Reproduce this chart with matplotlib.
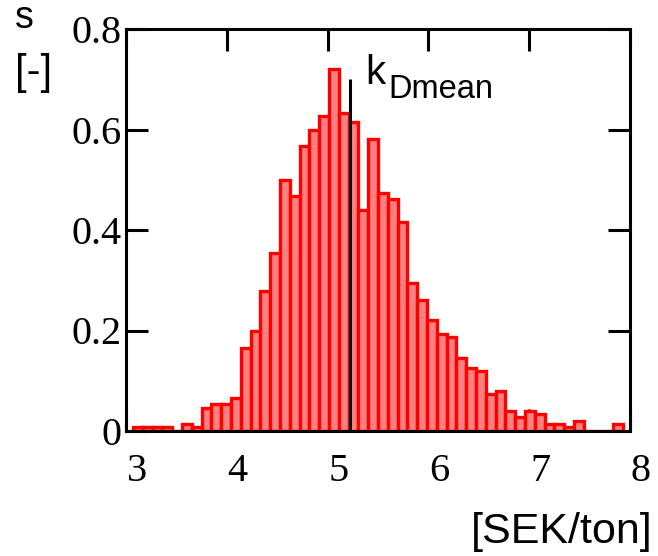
import matplotlib
matplotlib.use("Agg")
import numpy as np
import matplotlib.pyplot as plt
import matplotlib.transforms as mtransforms

# histogram of k_D, 50 bins between data min and max
bin_start = 3.07
bin_width = 0.0972
s_values = [0.008, 0.008, 0.008, 0.008, 0.0, 0.014, 0.008, 0.046, 0.053, 0.053,
            0.066, 0.166, 0.200, 0.279, 0.354, 0.500, 0.468, 0.567, 0.600, 0.627,
            0.720, 0.633, 0.614, 0.440, 0.581, 0.474, 0.461, 0.415, 0.294, 0.261,
            0.221, 0.193, 0.187, 0.146, 0.126, 0.120, 0.074, 0.080, 0.040, 0.027,
            0.040, 0.034, 0.014, 0.014, 0.007, 0.020, 0.0, 0.0, 0.0, 0.014]
k_dmean = 5.22
k_dmean_top = 0.70

x_ticks = [3, 4, 5, 6, 7, 8]
x_tick_labels = ["3", "4", "5", "6", "7", "8"]
y_ticks = [0, 0.2, 0.4, 0.6, 0.8]
y_tick_labels = ["0", "0.2", "0.4", "0.6", "0.8"]

fig = plt.figure(figsize=(6.58, 5.56), dpi=100)
ax = fig.add_axes([126 / 658, 1 - 431 / 556, 504 / 658, 402 / 556])

left_edges = bin_start + bin_width * np.arange(len(s_values))
ax.bar(left_edges, s_values, width=bin_width, align="edge",
       facecolor="#ff8080", edgecolor="#ff0000", linewidth=2.4, zorder=2)

# mean marker
ax.vlines(k_dmean, 0, k_dmean_top, color="black", linewidth=2.2, zorder=3)
ax.text(k_dmean + 0.15, 0.69, "k", fontsize=29, family="Liberation Sans",
        ha="left", va="baseline")
ax.text(k_dmean + 0.38, 0.662, "Dmean", fontsize=23.5, family="Liberation Sans",
        ha="left", va="baseline")

ax.set_xlim(3, 8)
ax.set_ylim(0, 0.8)
ax.set_xticks(x_ticks)
ax.set_xticklabels(x_tick_labels)
ax.set_yticks(y_ticks)
ax.set_yticklabels(y_tick_labels)
ax.set_axisbelow(True)

ax.tick_params(direction="in", length=16, width=2.2, top=True, right=True,
               labelsize=29, color="black")
ax.tick_params(axis="x", pad=16)
ax.tick_params(axis="y", pad=3)
for lbl in ax.get_xticklabels() + ax.get_yticklabels():
    lbl.set_family("Liberation Serif")

# Mathcad puts the x labels a bit right of the ticks
shift = mtransforms.ScaledTranslation(11 / 100, 0, fig.dpi_scale_trans)
for lbl in ax.get_xticklabels():
    lbl.set_transform(lbl.get_transform() + shift)

for sp in ax.spines.values():
    sp.set_linewidth(2.2)
    sp.set_zorder(4)

fig.text(15 / 658, 1 - 28 / 556, "s", fontsize=27, family="Liberation Sans",
         ha="left", va="baseline")
fig.text(15 / 658, 1 - 84 / 556, "[-]", fontsize=30, family="Liberation Sans",
         ha="left", va="baseline")
fig.text(653 / 658, 1 - 543 / 556, "[SEK/ton]", fontsize=31,
         family="Liberation Sans", ha="right", va="baseline")

fig.savefig("out.png", dpi=100)
